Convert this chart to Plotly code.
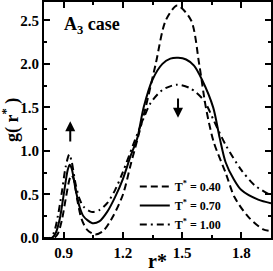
import plotly.graph_objects as go

# T* = 0.40 (dashed)
r_040 = [0.80, 0.85, 0.87, 0.89, 0.91, 0.93, 0.94, 0.95, 0.97, 0.99, 1.02, 1.06, 1.10, 1.15, 1.20, 1.24,
         1.273, 1.315, 1.366, 1.417, 1.475, 1.545, 1.586, 1.62, 1.66, 1.72, 1.765, 1.834, 1.91, 1.95]
g_040 = [0.00, 0.00, 0.05, 0.20, 0.45, 0.68, 0.72, 0.68, 0.42, 0.22, 0.09, 0.04, 0.08, 0.25, 0.50, 0.85,
         1.13, 1.50, 2.00, 2.50, 2.67, 2.50, 2.00, 1.50, 1.10, 0.75, 0.47, 0.245, 0.10, 0.08]

# T* = 0.70 (solid)
r_070 = [0.80, 0.84, 0.86, 0.88, 0.90, 0.92, 0.93, 0.94, 0.96, 0.98, 1.00, 1.045, 1.08, 1.12, 1.16, 1.20,
         1.24, 1.273, 1.305, 1.35, 1.40, 1.44, 1.48, 1.52, 1.56, 1.60, 1.657, 1.69, 1.72, 1.76, 1.80, 1.885, 1.95]
g_070 = [0.00, 0.00, 0.06, 0.22, 0.50, 0.78, 0.84, 0.80, 0.56, 0.36, 0.25, 0.17, 0.19, 0.30, 0.47, 0.68,
         0.95, 1.15, 1.50, 1.82, 2.00, 2.06, 2.07, 2.05, 1.98, 1.82, 1.50, 1.15, 0.87, 0.68, 0.55, 0.44, 0.40]

# T* = 1.00 (dash-dot)
r_100 = [0.80, 0.83, 0.85, 0.87, 0.89, 0.91, 0.928, 0.94, 0.96, 0.98, 1.00, 1.04, 1.08, 1.12, 1.16, 1.20,
         1.25, 1.30, 1.34, 1.40, 1.47, 1.54, 1.61, 1.66, 1.72, 1.80, 1.87, 1.95]
g_100 = [0.00, 0.00, 0.06, 0.25, 0.52, 0.82, 0.96, 0.88, 0.62, 0.45, 0.36, 0.30, 0.32, 0.40, 0.55, 0.76,
         1.06, 1.35, 1.55, 1.70, 1.76, 1.72, 1.58, 1.35, 1.07, 0.78, 0.60, 0.49]

x_ticks = [0.9, 1.2, 1.5, 1.8]
y_ticks = [0.0, 0.5, 1.0, 1.5, 2.0, 2.5]

FONT = "Liberation Serif"

fig = go.Figure()
fig.add_trace(go.Scatter(x=r_040, y=g_040, mode="lines", line=dict(color="black", width=2, dash="7px,4px", shape="spline", smoothing=0.8),
                         name="<b>T<sup>*</sup> = 0.40</b>"))
fig.add_trace(go.Scatter(x=r_070, y=g_070, mode="lines", line=dict(color="black", width=2, shape="spline", smoothing=0.8),
                         name="<b>T<sup>*</sup> = 0.70</b>"))
fig.add_trace(go.Scatter(x=r_100, y=g_100, mode="lines", line=dict(color="black", width=2, dash="7px,4px,2px,4px", shape="spline", smoothing=0.8),
                         name="<b>T<sup>*</sup> = 1.00</b>"))

axis_common = dict(showline=True, linecolor="black", linewidth=2, mirror="allticks", ticks="inside",
                   tickcolor="black", tickwidth=1.5, ticklen=6, showgrid=False, zeroline=False, automargin=False,
                   tickfont=dict(family=FONT, size=15, color="black"))

fig.update_xaxes(range=[0.8, 1.95], tickvals=x_ticks, ticktext=[f"<b>{v:.1f}</b>" for v in x_ticks],
                 minor=dict(dtick=0.15, tick0=0.9, ticks="inside", ticklen=3, tickcolor="black", tickwidth=1.5),
                 **axis_common)
fig.update_yaxes(range=[0, 2.71], tickvals=y_ticks, ticktext=[f"<b>{v:.1f}</b>" for v in y_ticks],
                 minor=dict(dtick=0.25, tick0=0, ticks="inside", ticklen=3, tickcolor="black", tickwidth=1.5),
                 **axis_common)

# axis titles
fig.add_annotation(x=0.5, y=-0.098, xref="paper", yref="paper", text="<b>r*</b>", showarrow=False,
                   xanchor="center", yanchor="middle", font=dict(family=FONT, size=20, color="black"))
fig.add_annotation(x=-0.145, y=0.5, xref="paper", yref="paper", text="<b>g( r<sup>*</sup> )</b>", showarrow=False,
                   textangle=-90, xanchor="center", yanchor="middle", font=dict(family=FONT, size=18, color="black"))

fig.add_annotation(x=0.892, y=2.44, xref="x", yref="y", text="<b>A<sub>3</sub> case</b>", showarrow=False,
                   xanchor="left", yanchor="middle", font=dict(family=FONT, size=18, color="black"))

# arrows
fig.add_annotation(x=0.933, y=1.34, ax=0.933, ay=1.09, xref="x", yref="y", axref="x", ayref="y",
                   showarrow=True, arrowhead=2, arrowsize=1, arrowwidth=2, arrowcolor="black", text="")
fig.add_annotation(x=1.479, y=1.38, ax=1.479, ay=1.62, xref="x", yref="y", axref="x", ayref="y",
                   showarrow=True, arrowhead=2, arrowsize=1, arrowwidth=2, arrowcolor="black", text="")

fig.update_layout(
    width=273, height=271, margin=dict(l=44, r=2, t=2, b=33),
    plot_bgcolor="white", paper_bgcolor="white",
    font=dict(family=FONT, color="black"),
    legend=dict(x=0.40, y=0.28, xanchor="left", yanchor="top", bgcolor="rgba(0,0,0,0)",
                font=dict(family=FONT, size=12, color="black"), tracegroupgap=0, itemwidth=30),
)

fig.write_html("out.html", config={"displayModeBar": False},
               post_script="document.body.style.margin='0';document.body.style.overflow='hidden';")
